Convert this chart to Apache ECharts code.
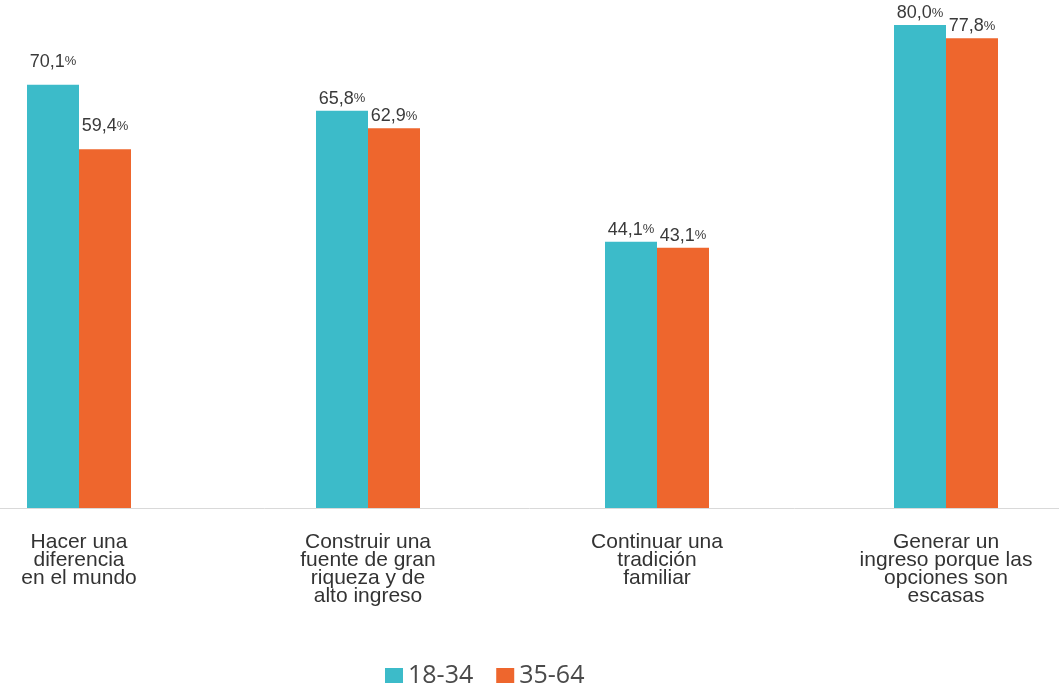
<!DOCTYPE html>
<html><head><meta charset="utf-8">
<script src="https://cdn.jsdelivr.net/npm/echarts@6/dist/echarts.min.js"></script>
<style>html,body{margin:0;padding:0;background:#fff}#c{width:1059px;height:687px}</style>
</head><body><div id="c"></div>
<script>
const categories = ["Hacer una\ndiferencia\nen el mundo", "Construir una\nfuente de gran\nriqueza y de\nalto ingreso", "Continuar una\ntradición\nfamiliar", "Generar un\ningreso porque las\nopciones son\nescasas"];
const seriesNames = ["18-34", "35-64"];
const values1834 = [70.1, 65.8, 44.1, 80.0];
const values3564 = [59.4, 62.9, 43.1, 77.8];
const labelDistances = [14, 3, 3, 3];

function fmt(v){ return '{n|' + v.toFixed(1).replace('.', ',') + '}{p|%}'; }
function mk(vals){ return vals.map((v,i)=>({value:v, label:{distance:labelDistances[i]}})); }

const labelStyle = {
  show:true, position:'top',
  formatter: p => fmt(p.value),
  rich:{ n:{fontSize:18, color:'#3a3a3a', fontFamily:'Liberation Sans'}, p:{fontSize:13, color:'#3a3a3a', fontFamily:'Liberation Sans'} }
};

const chart = echarts.init(document.getElementById('c'));
chart.setOption({
  animation:false,
  grid:{left:-65.5, right:-31.5, top:25, bottom:179, containLabel:false, outerBoundsMode:'none'},
  legend:{top:658, left:380, itemWidth:18, itemHeight:15, itemGap:23, icon:'rect',
    textStyle:{fontSize:25, color:'#4a4a4a', fontFamily:'Open Sans', padding:[0,0,0,0]}, data:seriesNames},
  xAxis:{type:'category', data:categories,
    axisLine:{lineStyle:{color:'#d9d9d9', width:1}}, axisTick:{show:false},
    axisLabel:{interval:0, margin:25, fontSize:21, lineHeight:18, color:'#333', fontFamily:'Liberation Sans', align:'center', verticalAlign:'top'}},
  yAxis:{type:'value', min:0, max:80, show:false, splitLine:{show:false}},
  series:[
    {name:seriesNames[0], type:'bar', data:mk(values1834), barWidth:52, barGap:'0%', itemStyle:{color:'#3cbbc9'}, label:labelStyle},
    {name:seriesNames[1], type:'bar', data:mk(values3564), barWidth:52, barGap:'0%', itemStyle:{color:'#ee662d'}, label:labelStyle}
  ]
});
</script></body></html>
